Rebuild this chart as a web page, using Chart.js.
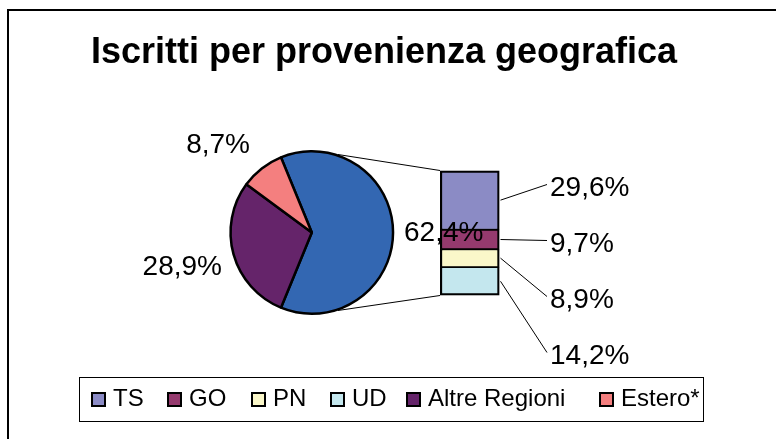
<!DOCTYPE html>
<html><head><meta charset="utf-8">
<script src="https://cdn.jsdelivr.net/npm/chart.js@4.4.1/dist/chart.umd.min.js"></script>
<style>
html,body{margin:0;padding:0;background:#fff;overflow:hidden}
#wrap{position:relative;width:776px;height:439px}
canvas{position:absolute;left:0;top:0}
</style></head><body>
<div id="wrap"><canvas id="pie" width="776" height="439"></canvas><canvas id="bar" width="776" height="439"></canvas></div>
<script>
const chartTitle = 'Iscritti per provenienza geografica';
const pieLabels = ['Friuli Venezia Giulia', 'Altre Regioni', 'Estero*'];
const pieValues = [62.4, 28.9, 8.7];
const pieColors = ['#3367B2', '#65246A', '#F47F7F'];
const barLabels = ['TS', 'GO', 'PN', 'UD'];
const barValues = [29.6, 9.7, 8.9, 14.2];
const barColors = ['#8B8BC5', '#953A6E', '#FAF7C9', '#C4E7EE'];

const FONT = '"Liberation Sans", Arial, Helvetica, sans-serif';
const fmt = v => v.toFixed(1).replace('.', ',') + '%';
const sum = a => a.reduce((s, v) => s + v, 0);

const legendItems = barLabels.map((l, i) => ({ text: l, color: barColors[i] }))
  .concat(pieLabels.slice(1).map((l, i) => ({ text: l, color: pieColors[i + 1] })));

const framePlugin = {
  id: 'frame',
  beforeDraw(chart) {
    const ctx = chart.ctx;
    ctx.save();
    ctx.fillStyle = '#fff';
    ctx.fillRect(0, 0, chart.width, chart.height);
    ctx.restore();
  },
  afterDraw(chart) {
    const ctx = chart.ctx;
    ctx.save();
    // outer frame
    ctx.strokeStyle = '#000';
    ctx.lineWidth = 2;
    ctx.beginPath();
    ctx.moveTo(8, chart.height + 2);
    ctx.lineTo(8, 10);
    ctx.lineTo(chart.width + 2, 10);
    ctx.stroke();
    // title
    ctx.fillStyle = '#000';
    ctx.font = 'bold 36px ' + FONT;
    ctx.textAlign = 'center';
    ctx.textBaseline = 'alphabetic';
    ctx.fillText(chartTitle, 384, 63);
    // legend box
    ctx.lineWidth = 1;
    ctx.strokeRect(79.5, 377.5, 624, 44);
    const xs = [91, 167, 251, 330, 406, 599];
    ctx.font = '24px ' + FONT;
    ctx.textAlign = 'left';
    legendItems.forEach((it, i) => {
      const x = xs[i];
      ctx.fillStyle = it.color;
      ctx.fillRect(x + 1, 393, 13, 13);
      ctx.lineWidth = 2;
      ctx.strokeStyle = '#000';
      ctx.strokeRect(x + 1, 393, 13, 13);
      ctx.fillStyle = '#000';
      ctx.fillText(it.text, x + 22, 406);
    });
    ctx.restore();
  }
};

const pieChart = new Chart(document.getElementById('pie'), {
  type: 'pie',
  data: {
    labels: pieLabels,
    datasets: [{ data: pieValues, backgroundColor: pieColors, borderColor: '#000', borderWidth: 2.5, hoverOffset: 0 }]
  },
  options: {
    responsive: false, animation: false, events: [], devicePixelRatio: 1,
    rotation: 90 - pieValues[0] / sum(pieValues) * 180,
    layout: { padding: { left: 229.3, top: 150, right: 381.7, bottom: 124 } },
    plugins: { legend: { display: false }, title: { display: false }, tooltip: { enabled: false } }
  },
  plugins: [framePlugin]
});

const overlayPlugin = {
  id: 'overlay',
  afterDraw(chart) {
    const ctx = chart.ctx;
    const arc = pieChart.getDatasetMeta(0).data[0];
    const cx = arc.x, cy = arc.y, r = arc.outerRadius + 1;
    const n = barLabels.length;
    const metaOf = i => chart.getDatasetMeta(n - 1 - i).data[0]; // dataset order is reversed
    const top = metaOf(0), bottom = metaOf(n - 1);
    const left = top.x - top.width / 2, right = top.x + top.width / 2;
    ctx.save();
    ctx.strokeStyle = '#000';
    ctx.lineWidth = 1;
    const a = 71.5 * Math.PI / 180;
    ctx.beginPath();
    ctx.moveTo(cx + r * Math.cos(-a), cy + r * Math.sin(-a));
    ctx.lineTo(left, top.y);
    ctx.moveTo(cx + r * Math.cos(a), cy + r * Math.sin(a));
    ctx.lineTo(left, bottom.base);
    ctx.stroke();
    // bar labels with leader lines
    const baselines = [196, 252, 308, 364];
    ctx.fillStyle = '#000';
    ctx.font = '28px ' + FONT;
    ctx.textAlign = 'left';
    ctx.textBaseline = 'alphabetic';
    barValues.forEach((v, i) => {
      const el = metaOf(i);
      const ym = (el.y + el.base) / 2;
      ctx.beginPath();
      ctx.moveTo(right + 1, ym);
      ctx.lineTo(547, baselines[i] - 11.5);
      ctx.stroke();
      ctx.fillText(fmt(v), 550, baselines[i]);
    });
    // pie labels
    ctx.textAlign = 'left';
    ctx.fillText(fmt(pieValues[0]), 404, 241);
    ctx.textAlign = 'right';
    ctx.fillText(fmt(pieValues[1]), 222, 275);
    ctx.fillText(fmt(pieValues[2]), 250, 153);
    ctx.restore();
  }
};

const nBar = barLabels.length;
const barChart = new Chart(document.getElementById('bar'), {
  type: 'bar',
  data: {
    labels: [''],
    datasets: barLabels.map((l, i) => ({
      label: l,
      data: [barValues[i]],
      backgroundColor: barColors[i],
      borderColor: '#000',
      borderSkipped: false,
      borderWidth: {
        left: 2.5, right: 2.5,
        top: i === 0 ? 2.5 : 1.25,
        bottom: i === nBar - 1 ? 2.5 : 1.25
      },
      barPercentage: 1, categoryPercentage: 1
    })).reverse()
  },
  options: {
    responsive: false, animation: false, events: [], devicePixelRatio: 1,
    layout: { padding: { left: 440, top: 170.5, right: 276.5, bottom: 143.5 } },
    scales: {
      x: { display: false, stacked: true },
      y: { display: false, stacked: true, min: 0, max: sum(barValues) }
    },
    plugins: { legend: { display: false }, title: { display: false }, tooltip: { enabled: false } }
  },
  plugins: [overlayPlugin]
});
</script>
</body></html>
